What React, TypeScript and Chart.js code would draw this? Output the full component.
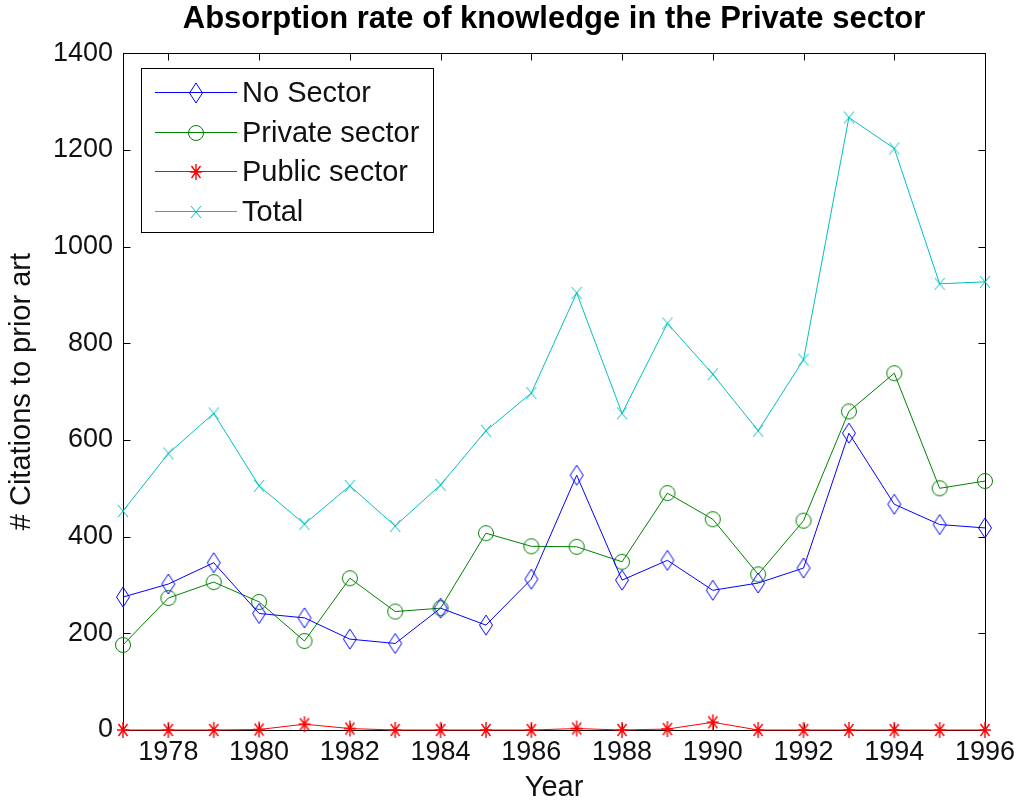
import React, { useEffect, useRef } from 'react';
import { Chart, registerables } from 'chart.js';

Chart.register(...registerables);

const years = [1977, 1978, 1979, 1980, 1981, 1982, 1983, 1984, 1985, 1986, 1987, 1988, 1989, 1990, 1991, 1992, 1993, 1994, 1995, 1996];
const xTickYears = [1978, 1980, 1982, 1984, 1986, 1988, 1990, 1992, 1994, 1996];
const yMin = 0;
const yMax = 1400;
const yStep = 200;

const noSector = [275, 302, 346, 241, 232, 188, 179, 252, 217, 312, 527, 310, 351, 289, 304, 335, 614, 467, 425, 418];
const privateSector = [176, 273, 306, 265, 184, 314, 245, 252, 407, 380, 379, 348, 490, 436, 322, 433, 659, 738, 500, 515];
const publicSector = [0, 0, 0, 1, 12, 3, 0, 0, 0, 0, 3, 0, 2, 16, 0, 0, 0, 0, 0, 0];
const total = [453, 572, 655, 505, 426, 505, 422, 507, 619, 697, 904, 655, 841, 736, 619, 766, 1267, 1203, 923, 927];

const seriesNames = ['No Sector', 'Private sector', 'Public sector', 'Total'];
const seriesColors = ['#0000ff', '#008000', '#ff0000', '#00bfbf'];
const seriesMarkers = ['diamond', 'circle', 'star', 'x'];

const titleText = 'Absorption rate of knowledge in the Private sector';
const xTitle = 'Year';
const yTitle = '# Citations to prior art';

const FONT = 'Arial, "Liberation Sans", Helvetica, sans-serif';

function makeMarker(kind: string, color: string): HTMLCanvasElement {
  const c = document.createElement('canvas');
  let w = 16, h = 16;
  if (kind === 'diamond') { w = 16; h = 22; }
  if (kind === 'circle') { w = 18; h = 18; }
  if (kind === 'star') { w = 14; h = 18; }
  if (kind === 'x') { w = 12; h = 14; }
  c.width = w; c.height = h;
  const ctx = c.getContext('2d')!;
  ctx.strokeStyle = color;
  ctx.lineWidth = 1;
  ctx.beginPath();
  if (kind === 'diamond') {
    ctx.moveTo(w / 2, 1);
    ctx.lineTo(w - 1.5, h / 2);
    ctx.lineTo(w / 2, h - 1);
    ctx.lineTo(1.5, h / 2);
    ctx.closePath();
  } else if (kind === 'circle') {
    ctx.arc(w / 2, h / 2, 7.5, 0, Math.PI * 2);
  } else if (kind === 'star') {
    ctx.lineWidth = 1.4;
    ctx.moveTo(w / 2, 1); ctx.lineTo(w / 2, h - 1);
    ctx.moveTo(1, h / 2); ctx.lineTo(w - 1, h / 2);
    ctx.moveTo(2.5, 3); ctx.lineTo(w - 2.5, h - 3);
    ctx.moveTo(w - 2.5, 3); ctx.lineTo(2.5, h - 3);
  } else {
    ctx.moveTo(1, 1); ctx.lineTo(w - 1, h - 1);
    ctx.moveTo(w - 1, 1); ctx.lineTo(1, h - 1);
  }
  ctx.stroke();
  return c;
}

export default function App() {
  const ref = useRef<HTMLCanvasElement | null>(null);

  useEffect(() => {
    if (!ref.current) return;
    const markers = seriesMarkers.map((m, i) => makeMarker(m, seriesColors[i]));
    const seriesData = [noSector, privateSector, publicSector, total];

    const boxPlugin = {
      id: 'matlabBox',
      beforeDatasetsDraw(chart: any) {
        const { ctx, chartArea } = chart;
        const { left, right, top, bottom } = chartArea;
        const tl = 7;
        ctx.save();
        ctx.strokeStyle = '#000';
        ctx.lineWidth = 1;
        const L = Math.round(left) + 0.5, R = Math.round(right) + 0.5;
        const T = Math.round(top) + 0.5, B = Math.round(bottom) + 0.5;
        ctx.strokeRect(L, T, R - L, B - T);
        ctx.beginPath();
        const xs = chart.scales.x;
        xs.ticks.forEach((t: any) => {
          const px = Math.round(xs.getPixelForValue(t.value)) + 0.5;
          ctx.moveTo(px, B); ctx.lineTo(px, B - tl);
          ctx.moveTo(px, T); ctx.lineTo(px, T + tl);
        });
        const ys = chart.scales.y;
        ys.ticks.forEach((t: any) => {
          const py = Math.round(ys.getPixelForValue(t.value)) + 0.5;
          ctx.moveTo(L, py); ctx.lineTo(L + tl, py);
          ctx.moveTo(R, py); ctx.lineTo(R - tl, py);
        });
        ctx.stroke();
        ctx.restore();
      },
    };

    const legendPlugin = {
      id: 'matlabLegend',
      afterDraw(chart: any) {
        const { ctx, chartArea } = chart;
        const bx = Math.round(chartArea.left) + 18;
        const by = Math.round(chartArea.top) + 15;
        const bw = 292, bh = 164;
        ctx.save();
        ctx.fillStyle = '#fff';
        ctx.fillRect(bx, by, bw, bh);
        ctx.strokeStyle = '#000';
        ctx.lineWidth = 1;
        ctx.strokeRect(bx + 0.5, by + 0.5, bw, bh);
        seriesNames.forEach((name, i) => {
          const cy = Math.round(by + 24 + i * 39.7) + 0.5;
          ctx.strokeStyle = seriesColors[i];
          ctx.beginPath();
          ctx.moveTo(bx + 14, cy);
          ctx.lineTo(bx + 96, cy);
          ctx.stroke();
          const m = markers[i];
          ctx.drawImage(m, Math.round(bx + 55 - m.width / 2), Math.round(cy - m.height / 2));
          ctx.fillStyle = '#111';
          ctx.font = `29px ${FONT}`;
          ctx.textBaseline = 'middle';
          ctx.textAlign = 'left';
          ctx.fillText(name, bx + 101, cy + 1);
        });
        ctx.restore();
      },
    };

    const chart = new Chart(ref.current, {
      type: 'line',
      data: {
        datasets: seriesNames.map((name, i) => ({
          label: name,
          data: years.map((yr, j) => ({ x: yr, y: seriesData[i][j] })),
          borderColor: seriesColors[i],
          backgroundColor: seriesColors[i],
          borderWidth: 1,
          pointStyle: markers[i] as any,
          pointRadius: 6,
          tension: 0,
          fill: false,
          clip: false as any,
        })),
      },
      options: {
        responsive: false,
        animation: false,
        events: [],
        layout: { padding: { left: 0, right: 29, top: 0, bottom: 0 } },
        plugins: {
          legend: { display: false },
          tooltip: { enabled: false },
          title: {
            display: true,
            text: titleText,
            fullSize: false,
            color: '#000',
            font: { family: FONT, size: 31, weight: 'bold' },
            padding: { top: 1, bottom: 15 },
          },
        },
        scales: {
          x: {
            type: 'linear',
            min: years[0],
            max: years[years.length - 1],
            afterBuildTicks: (s: any) => {
              s.ticks = xTickYears.map((v) => ({ value: v }));
            },
            afterFit: (s: any) => { s.height = 77; s.paddingLeft = 0; s.paddingRight = 0; },
            grid: { display: false, drawTicks: false },
            border: { display: false },
            ticks: {
              autoSkip: false,
              maxRotation: 0,
              minRotation: 0,
              padding: 6,
              color: '#111',
              font: { family: FONT, size: 27 },
              callback: (v: any) => String(v),
            },
            title: {
              display: true,
              text: xTitle,
              color: '#111',
              font: { family: FONT, size: 29 },
              padding: { top: 0, bottom: 2 },
            },
          },
          y: {
            type: 'linear',
            min: yMin,
            max: yMax,
            afterFit: (s: any) => { s.width = 123; s.paddingTop = 0; s.paddingBottom = 0; },
            grid: { display: false, drawTicks: false },
            border: { display: false },
            ticks: {
              stepSize: yStep,
              padding: 10,
              color: '#111',
              font: { family: FONT, size: 27 },
              callback: (v: any) => String(v),
            },
            title: {
              display: true,
              text: yTitle,
              color: '#111',
              font: { family: FONT, size: 29 },
              padding: { top: 5, bottom: 0 },
            },
          },
        },
      },
      plugins: [boxPlugin, legendPlugin],
    } as any);

    return () => chart.destroy();
  }, []);

  return (
    <div style={{ position: 'fixed', left: 0, top: 0, width: 1014, height: 807, background: '#fff' }}>
      <canvas ref={ref} width={1014} height={807} style={{ display: 'block' }} />
    </div>
  );
}
